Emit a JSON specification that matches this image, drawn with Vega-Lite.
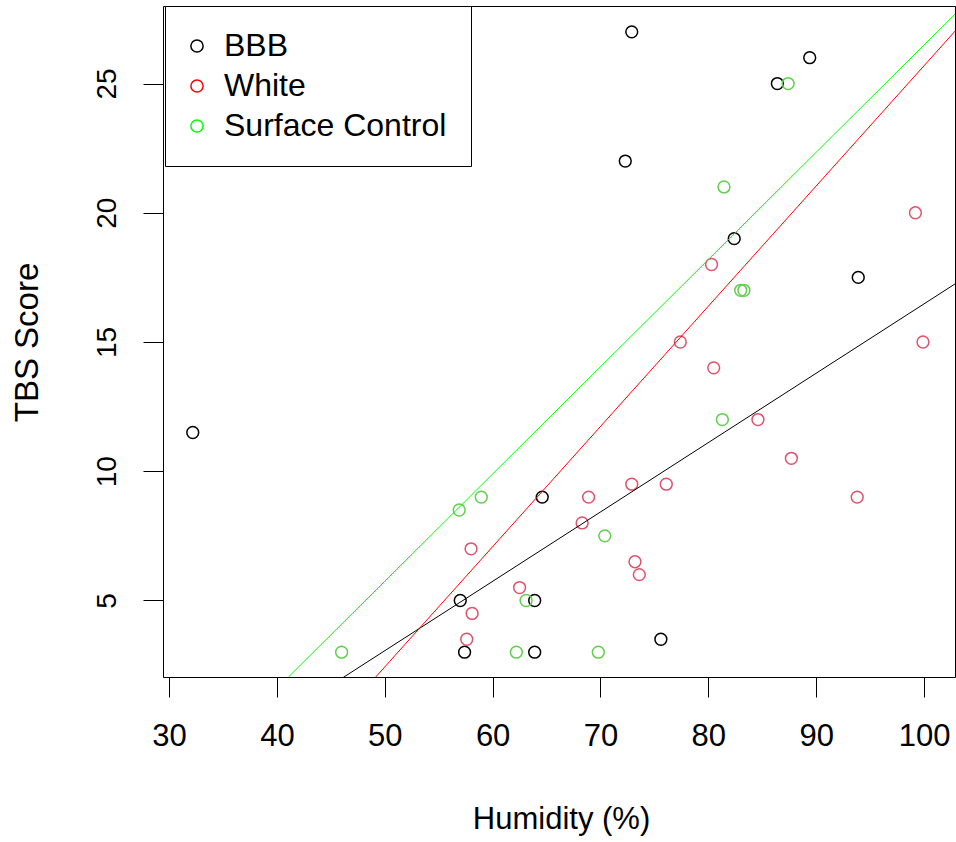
{
  "$schema": "https://vega.github.io/schema/vega-lite/v6.json",
  "width": 792,
  "height": 671,
  "autosize": "none",
  "padding": {"left": 163, "top": 6, "right": 1, "bottom": 165},
  "background": "white",
  "config": {
    "view": {"stroke": "black", "strokeWidth": 1},
    "font": "Liberation Sans",
    "axis": {
      "domain": false,
      "grid": false,
      "tickColor": "black",
      "tickSize": 20,
      "tickWidth": 1,
      "labelColor": "black",
      "titleColor": "black",
      "titleFontWeight": "normal",
      "labelFont": "Liberation Sans",
      "titleFont": "Liberation Sans"
    }
  },
  "datasets": {
    "points": [
      {"group": "BBB", "humidity": 32.2, "score": 11.5},
      {"group": "BBB", "humidity": 72.9, "score": 27},
      {"group": "BBB", "humidity": 72.3, "score": 22},
      {"group": "BBB", "humidity": 86.4, "score": 25},
      {"group": "BBB", "humidity": 89.4, "score": 26},
      {"group": "BBB", "humidity": 82.4, "score": 19},
      {"group": "BBB", "humidity": 93.9, "score": 17.5},
      {"group": "BBB", "humidity": 64.6, "score": 9},
      {"group": "BBB", "humidity": 57.0, "score": 5},
      {"group": "BBB", "humidity": 63.9, "score": 5},
      {"group": "BBB", "humidity": 57.4, "score": 3},
      {"group": "BBB", "humidity": 63.9, "score": 3},
      {"group": "BBB", "humidity": 75.6, "score": 3.5},
      {"group": "White", "humidity": 99.2, "score": 20},
      {"group": "White", "humidity": 99.9, "score": 15},
      {"group": "White", "humidity": 80.3, "score": 18},
      {"group": "White", "humidity": 77.4, "score": 15},
      {"group": "White", "humidity": 80.5, "score": 14},
      {"group": "White", "humidity": 84.6, "score": 12},
      {"group": "White", "humidity": 87.7, "score": 10.5},
      {"group": "White", "humidity": 93.8, "score": 9},
      {"group": "White", "humidity": 76.1, "score": 9.5},
      {"group": "White", "humidity": 72.9, "score": 9.5},
      {"group": "White", "humidity": 68.9, "score": 9},
      {"group": "White", "humidity": 68.3, "score": 8},
      {"group": "White", "humidity": 73.2, "score": 6.5},
      {"group": "White", "humidity": 73.6, "score": 6},
      {"group": "White", "humidity": 58.0, "score": 7},
      {"group": "White", "humidity": 62.5, "score": 5.5},
      {"group": "White", "humidity": 58.1, "score": 4.5},
      {"group": "White", "humidity": 57.6, "score": 3.5},
      {"group": "Surface Control", "humidity": 87.4, "score": 25},
      {"group": "Surface Control", "humidity": 81.45, "score": 21},
      {"group": "Surface Control", "humidity": 83.0, "score": 17},
      {"group": "Surface Control", "humidity": 83.3, "score": 17},
      {"group": "Surface Control", "humidity": 81.3, "score": 12},
      {"group": "Surface Control", "humidity": 56.9, "score": 8.5},
      {"group": "Surface Control", "humidity": 58.95, "score": 9},
      {"group": "Surface Control", "humidity": 70.4, "score": 7.5},
      {"group": "Surface Control", "humidity": 63.1, "score": 5},
      {"group": "Surface Control", "humidity": 62.2, "score": 3},
      {"group": "Surface Control", "humidity": 69.8, "score": 3},
      {"group": "Surface Control", "humidity": 46.0, "score": 3}
    ],
    "lines": [
      {"group": "BBB", "humidity": 29, "score": -2.58},
      {"group": "BBB", "humidity": 104, "score": 17.55},
      {"group": "White", "humidity": 29, "score": -7.34},
      {"group": "White", "humidity": 104, "score": 27.55},
      {"group": "Surface Control", "humidity": 29, "score": -2.97},
      {"group": "Surface Control", "humidity": 104, "score": 28.15}
    ]
  },
  "encoding": {
    "x": {
      "field": "humidity",
      "type": "quantitative",
      "scale": {"domain": [29.44, 102.87], "nice": false, "zero": false},
      "axis": {
        "values": [30, 40, 50, 60, 70, 80, 90, 100],
        "title": "Humidity (%)",
        "labelFontSize": 31,
        "labelBaseline": "alphabetic",
        "labelPadding": 48,
        "titleFontSize": 31,
        "titleBaseline": "alphabetic",
        "titleX": 398,
        "titleY": 151,
        "titleAnchor": "middle"
      }
    },
    "y": {
      "field": "score",
      "type": "quantitative",
      "scale": {"domain": [2.04, 28.0], "nice": false, "zero": false},
      "axis": {
        "values": [5, 10, 15, 20, 25],
        "title": "TBS Score",
        "labelAngle": -90,
        "labelAlign": "center",
        "labelBaseline": "alphabetic",
        "labelPadding": 28,
        "labelFontSize": 28,
        "titleFontSize": 33,
        "titleAngle": -90,
        "titleX": -136,
        "titleY": 336,
        "titleAlign": "center",
        "titleBaseline": "middle"
      }
    }
  },
  "layer": [
    {
      "data": {"name": "points"},
      "mark": {"type": "point", "shape": "circle", "filled": false, "size": 140, "strokeWidth": 1.5, "opacity": 1},
      "encoding": {
        "color": {
          "field": "group",
          "type": "nominal",
          "scale": {"domain": ["BBB", "White", "Surface Control"], "range": ["#000000", "#DF536B", "#61D04F"]},
          "legend": null
        }
      }
    },
    {
      "data": {"name": "lines"},
      "mark": {"type": "line", "clip": true, "strokeWidth": 1},
      "encoding": {
        "color": {
          "field": "group",
          "type": "nominal",
          "scale": {"domain": ["BBB", "White", "Surface Control"], "range": ["#000000", "#FF0000", "#00FF00"]},
          "legend": {
            "title": null,
            "orient": "none",
            "legendX": 2,
            "legendY": 0,
            "strokeColor": "black",
            "fillColor": "white",
            "padding": 24,
            "labelFontSize": 32,
            "labelFont": "Liberation Sans",
            "labelColor": "black",
            "labelLimit": 400,
            "labelOffset": 11,
            "symbolOffset": -8,
            "rowPadding": 8,
            "symbolType": "circle",
            "symbolSize": 150,
            "symbolStrokeWidth": 1.5,
            "symbolFillColor": "transparent"
          }
        }
      }
    }
  ],
  "resolve": {"scale": {"color": "independent"}}
}
